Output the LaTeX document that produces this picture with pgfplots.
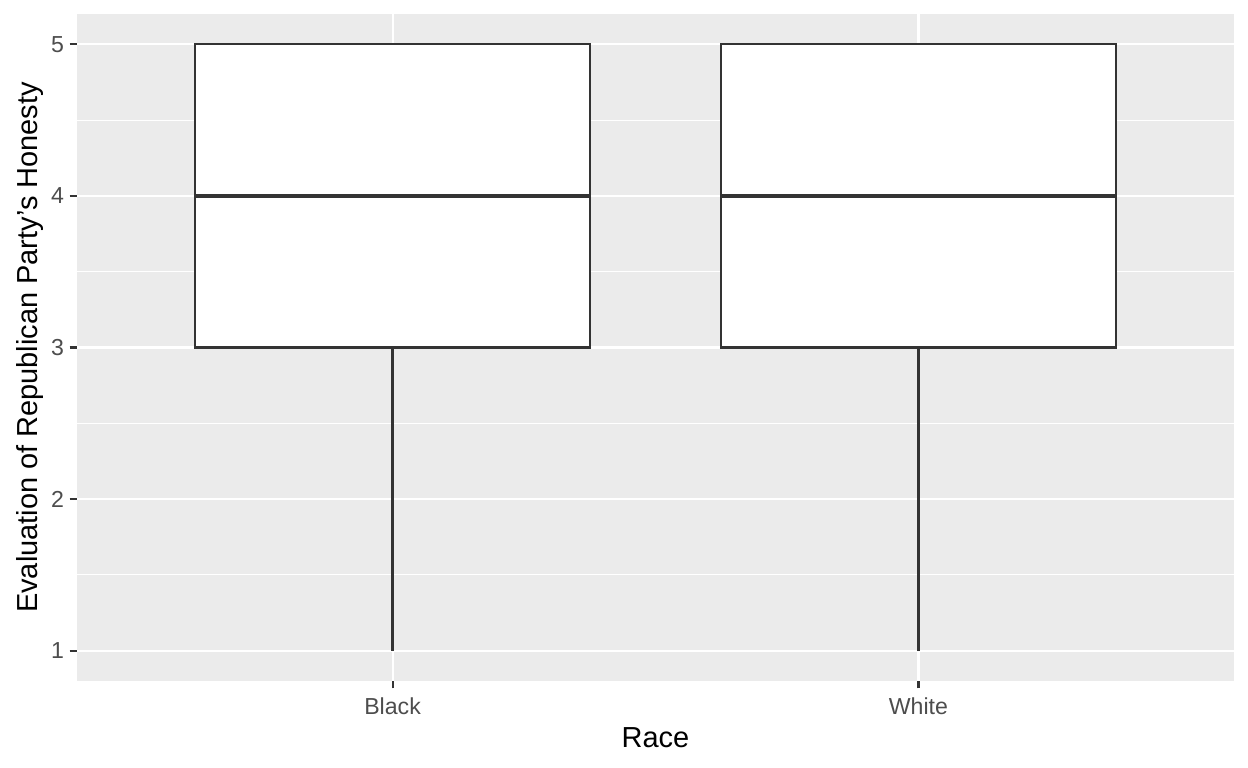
\documentclass[border=0pt]{standalone}
\usepackage{fontspec}
\setmainfont{Liberation Sans}
\usepackage{pgfplots}
\pgfplotsset{compat=1.18}
\usepgfplotslibrary{statistics}
\definecolor{ggbg}{HTML}{EBEBEB}
\definecolor{gray20}{HTML}{333333}
\definecolor{gray30}{HTML}{4D4D4D}
\begin{document}
\begin{tikzpicture}
\begin{axis}[
  scale only axis,
  width=555.36pt, height=320.16pt,
  xmin=0.4, xmax=2.6, ymin=0.8, ymax=5.2,
  xtick={1,2}, xticklabels={Black,White},
  ytick={1,2,3,4,5},
  minor ytick={1.5,2.5,3.5,4.5},
  grid=both,
  major grid style={white, line width=1.0pt},
  minor grid style={white, line width=0.5pt},
  minor tick length=0pt,
  axis background/.style={fill=ggbg},
  axis line style={draw=none},
  tick align=outside,
  major tick length=3.5pt,
  tick style={gray20, line width=1.0pt},
  xtick pos=bottom, ytick pos=left,
  /pgf/number format/assume math mode=true,
  ticklabel style={font=\fontsize{11.1}{13}\selectfont, text=gray30},
  xticklabel style={inner sep=2.6pt, yshift=-1.9pt},
  yticklabel style={inner sep=2.6pt},
  xlabel={Race},
  ylabel={Evaluation of Republican Party's Honesty},
  label style={font=\fontsize{13.9}{16}\selectfont, text=black},
  xlabel style={at={(axis description cs:0.5,-0.0855)}, anchor=center},
  ylabel style={at={(axis description cs:-0.0406,0.5)}, anchor=center},
  boxplot/draw direction=y,
  boxplot/every median/.style={line width=2.3pt},
]
\addplot[boxplot prepared={draw position=1, lower whisker=1, lower quartile=3, median=4, upper quartile=5, upper whisker=5, box extend=0.75, whisker extend=0}, fill=white, draw=gray20, line width=1.05pt] coordinates {};
\addplot[boxplot prepared={draw position=2, lower whisker=1, lower quartile=3, median=4, upper quartile=5, upper whisker=5, box extend=0.75, whisker extend=0}, fill=white, draw=gray20, line width=1.05pt] coordinates {};
\end{axis}
\pgfresetboundingbox
\path[use as bounding box] ([shift={(-36.96pt,-41.76pt)}]current axis.south west) rectangle ([shift={(6.72pt,6.72pt)}]current axis.north east);
\end{tikzpicture}
\end{document}
